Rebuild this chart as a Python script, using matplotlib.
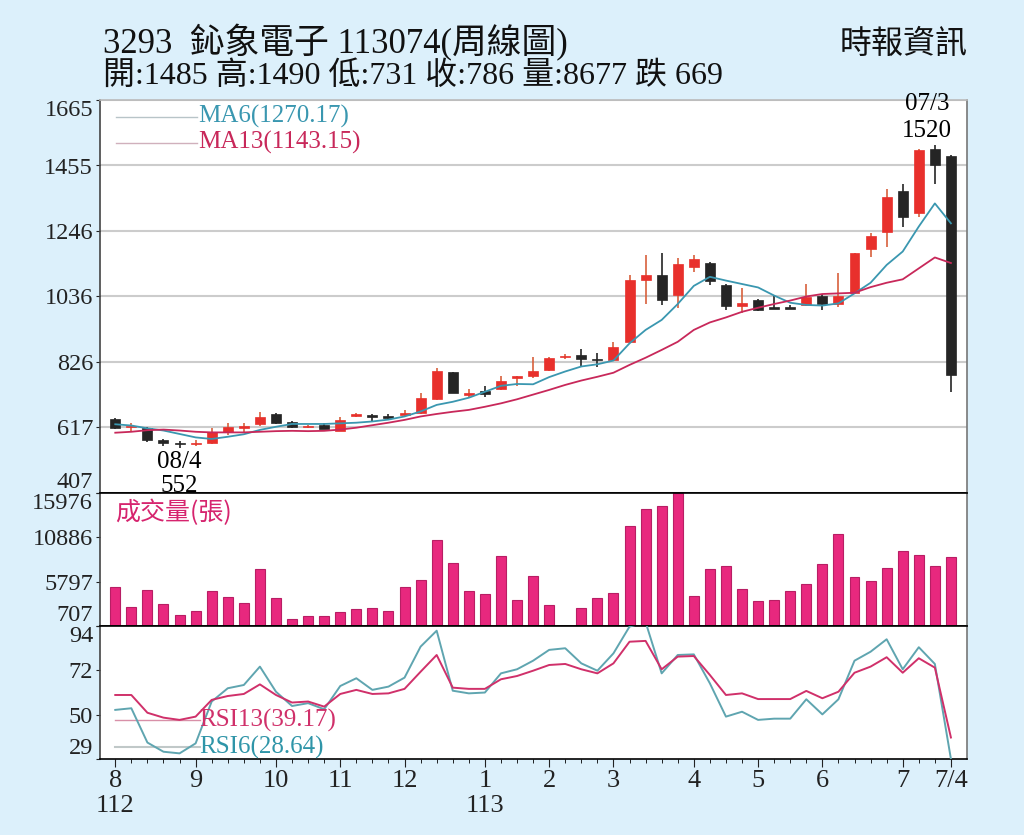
import numpy as np
import matplotlib.pyplot as plt
import matplotlib.transforms as mtransforms

# ---------------- weekly data ----------------
opens = [643, 617, 614, 577, 565, 563, 566, 603, 615, 627,
         660, 633, 617, 625, 607, 654, 657, 652, 657, 662,
         707, 793, 721, 735, 739, 775, 782, 801, 841, 849,
         836, 833, 889, 1089, 1105, 1041, 1132, 1144, 1073, 1007,
         1025, 1000, 1000, 1009, 1039, 1012, 1046, 1187, 1244, 1375,
         1302, 1508, 1485]
highs = [646, 630, 617, 579, 574, 576, 614, 630, 632, 667,
         664, 639, 625, 630, 649, 662, 659, 660, 673, 726,
         806, 795, 740, 751, 782, 782, 843, 841, 852, 867,
         854, 891, 1105, 1169, 1176, 1158, 1169, 1148, 1076, 1062,
         1027, 1038, 1009, 1076, 1044, 1110, 1176, 1240, 1379, 1395,
         1507, 1520, 1490]
lows = [611, 603, 569, 558, 552, 556, 563, 593, 603, 622,
        627, 614, 614, 611, 604, 649, 635, 642, 651, 660,
        705, 726, 715, 715, 737, 750, 774, 799, 836, 811,
        809, 831, 888, 1011, 1009, 1000, 1116, 1073, 993, 982,
        991, 996, 995, 1004, 993, 1001, 1044, 1161, 1196, 1260,
        1292, 1395, 731]
closes = [614, 620, 577, 566, 563, 566, 603, 619, 620, 651,
          632, 619, 620, 613, 641, 656, 649, 648, 661, 712,
          798, 728, 725, 724, 767, 778, 799, 838, 845, 836,
          832, 875, 1089, 1105, 1025, 1140, 1155, 1087, 1004, 1014,
          993, 997, 997, 1036, 1012, 1039, 1174, 1230, 1354, 1292,
          1505, 1457, 786]
volumes = [5234, 2932, 4850, 3239, 1973, 2433, 4774, 4083, 3316, 7229,
           3891, 1551, 1820, 1820, 2318, 2625, 2740, 2433, 5196, 5963,
           10605, 7996, 4697, 4352, 8763, 3661, 6462, 3124, 707, 2740,
           3968, 4505, 12139, 14134, 14441, 15976, 4198, 7267, 7651, 5004,
           3546, 3661, 4774, 5503, 7843, 11295, 6308, 5925, 7421, 9339,
           8840, 7574, 8677]
ma6 = [627, 623, 614, 607, 596, 585, 580, 587, 595, 609,
       619, 628, 628, 628, 630, 632, 636, 642, 652, 668,
       689, 699, 712, 731, 750, 756, 755, 778, 796, 812,
       819, 831, 886, 929, 961, 1012, 1070, 1099, 1087, 1076,
       1065, 1039, 1016, 1009, 1007, 1014, 1046, 1080, 1137, 1180,
       1260, 1334, 1270.17]
ma13 = [600, 603, 608, 610, 607, 603, 601, 601, 601, 603,
        605, 606, 605, 606, 610, 616, 624, 632, 641, 652,
        660, 667, 673, 683, 694, 707, 722, 737, 753, 767,
        779, 792, 817, 840, 865, 891, 929, 953, 969, 987,
        1000, 1012, 1023, 1036, 1044, 1046, 1048, 1066, 1080, 1091,
        1126, 1161, 1143.15]
rsi13 = [60.0, 60.0, 51.3, 48.9, 47.8, 49.4, 57.6, 59.5, 60.5, 65.2,
         60.0, 56.3, 56.8, 54.3, 60.5, 62.5, 60.5, 60.8, 63.0, 71.4,
         79.6, 63.6, 63.0, 63.0, 67.7, 69.3, 71.9, 74.7, 75.2, 72.6,
         70.6, 75.5, 86.1, 86.5, 72.6, 78.8, 79.1, 69.8, 60.0, 60.8,
         58.0, 58.0, 58.0, 62.0, 58.4, 61.6, 70.9, 73.9, 78.5, 70.9,
         78.0, 73.4, 39.17]
rsi6 = [52.7, 53.5, 36.7, 32.2, 31.4, 36.3, 56.8, 63.3, 64.9, 73.9,
        61.6, 54.6, 56.0, 53.0, 64.4, 68.2, 62.5, 64.1, 68.5, 83.7,
        91.5, 62.1, 60.8, 61.2, 70.6, 72.6, 76.8, 82.1, 82.9, 75.5,
        71.9, 80.4, 93.5, 95.7, 70.6, 79.6, 79.9, 65.7, 49.4, 51.8,
        47.8, 48.4, 48.4, 57.9, 50.5, 57.9, 76.8, 81.2, 87.3, 72.6,
        83.4, 75.2, 28.64]

month_pos = [0, 5, 10, 14, 18, 23, 27, 31, 36, 40, 44, 49, 52]
month_labels = ['8', '9', '10', '11', '12', '1', '2', '3', '4', '5', '6', '7', '7/4']
year_pos = [0, 23]
year_labels = ['112', '113']

price_labels = ['407', '617', '826', '1036', '1246', '1455', '1665']
vol_labels = ['707', '5797', '10886', '15976']
rsi_labels = ['29', '50', '72', '94']

title1 = '3293  鈊象電子 113074(周線圖)'
title2 = '開:1485 高:1490 低:731 收:786 量:8677 跌 669'

# ---------------- style ----------------
BG = '#dcf0fb'
RED = '#e8302c'
BLACK = '#252525'
PINK = '#e8287e'
TEAL = '#3a97b0'
MAGENTA = '#c8285a'

plt.rcParams['font.family'] = ['Liberation Serif', 'Noto Sans CJK TC']
CJK = ['Noto Sans CJK TC', 'DejaVu Sans']

opens = np.array(opens, float)
closes = np.array(closes, float)
highs = np.array(highs, float)
lows = np.array(lows, float)
weeks = np.arange(len(closes))

fig = plt.figure(figsize=(10.24, 8.35), dpi=100, facecolor=BG)
L, W = 100 / 1024, 867 / 1024
ax1 = fig.add_axes([L, 1 - 493 / 835, W, 393 / 835])
ax2 = fig.add_axes([L, 1 - 626 / 835, W, 133 / 835])
ax3 = fig.add_axes([L, 1 - 759 / 835, W, 133 / 835])

for ax in (ax1, ax2, ax3):
    ax.set_facecolor('white')
    ax.set_xlim(-0.95, 53.0)
    ax.spines['left'].set_color('#444444')
    ax.spines['right'].set_color('#777777')
    ax.spines['top'].set_color('black')
    ax.spines['bottom'].set_color('black')
    for s in ax.spines.values():
        s.set_linewidth(1.2)
    ax.tick_params(axis='y', direction='out', length=3, pad=2,
                   labelsize=17.5, colors='#222222')
ax1.spines['top'].set_color('#bbbbbb')


def clamp_labels(ax):
    labs = ax.get_yticklabels()
    labs[0].set_va('bottom')
    labs[-1].set_va('top')


# ---------------- price panel ----------------
ax1.set_ylim(407, 1665)
ax1.set_yticks(np.linspace(407, 1665, 7), price_labels)
clamp_labels(ax1)
ax1.grid(axis='y', color='#cccccc', lw=1.5)
ax1.set_axisbelow(True)
ax1.set_xticks([])

up = closes >= opens
body_col = np.where(up, RED, BLACK)
wick_col = np.where(up, '#d8603c', BLACK)
ax1.vlines(weeks, lows, highs, colors=wick_col, lw=1.2, zorder=3)
bottoms = np.minimum(opens, closes)
heights = np.maximum(np.abs(closes - opens), 5)
ax1.bar(weeks, heights, bottom=bottoms, width=0.62, color=body_col,
        edgecolor=body_col, lw=0.5, zorder=4)
ax1.plot(weeks, ma6, color=TEAL, lw=1.3, zorder=5)
ax1.plot(weeks, ma13, color=MAGENTA, lw=1.3, zorder=5)

ax1.plot([0.018, 0.112], [0.957, 0.957], color='#b8c4c8', lw=1,
         transform=ax1.transAxes)
ax1.plot([0.018, 0.112], [0.891, 0.891], color='#d0b0bc', lw=1,
         transform=ax1.transAxes)
ax1.text(0.113, 0.957, f'MA6({ma6[-1]:.2f})', color=TEAL, fontsize=18,
         va='center', transform=ax1.transAxes)
ax1.text(0.113, 0.891, f'MA13({ma13[-1]:.2f})', color=MAGENTA, fontsize=18,
         va='center', transform=ax1.transAxes)

ax1.text(4, 506, '08/4', fontsize=18, ha='center', va='center', zorder=6)
ax1.text(4, 428, '552', fontsize=18, ha='center', va='center', zorder=6,
         clip_on=False)
ax1.text(50.5, 1652, '07/3', fontsize=18, ha='center', va='center',
         clip_on=False)
ax1.text(50.5, 1566, '1520', fontsize=18, ha='center', va='center')

# ---------------- volume panel ----------------
ax2.set_ylim(707, 15976)
ax2.set_yticks(np.linspace(707, 15976, 4), vol_labels)
clamp_labels(ax2)
ax2.set_xticks([])
ax2.bar(weeks, volumes, width=0.62, color=PINK, edgecolor='#b81e64', lw=0.8)
ax2.text(0.017, 0.85, '成交量(張)', color='#d6246e', fontsize=18,
         family=CJK, va='center', transform=ax2.transAxes)

# ---------------- RSI panel ----------------
ax3.set_ylim(28.64, 93.8)
ax3.set_yticks(np.linspace(28.64, 93.8, 4), rsi_labels)
clamp_labels(ax3)
ax3.plot(weeks, rsi6, color='#5fa5b0', lw=1.4, zorder=3)
ax3.plot(weeks, rsi13, color='#d0306a', lw=1.4, zorder=4)
ax3.plot([0.017, 0.115], [0.293, 0.293], color='#d890a8', lw=1,
         transform=ax3.transAxes)
ax3.plot([0.017, 0.115], [0.09, 0.09], color='#c0c8c8', lw=1.5,
         transform=ax3.transAxes)
ax3.text(0.114, 0.293, f'RSI13({rsi13[-1]:.2f})', color='#d0306a',
         fontsize=18, va='center', transform=ax3.transAxes)
ax3.text(0.114, 0.09, f'RSI6({rsi6[-1]:.2f})', color='#2f95a8',
         fontsize=18, va='center', transform=ax3.transAxes)

ax3.set_xticks(month_pos, month_labels)
ax3.set_xticks(weeks, minor=True)
ax3.tick_params(axis='x', which='major', direction='out', length=6,
                pad=2, labelsize=19, colors='#222222')
ax3.tick_params(axis='x', which='minor', direction='out', length=3)
trans = mtransforms.blended_transform_factory(ax3.transData, ax3.transAxes)
for p, lab in zip(year_pos, year_labels):
    ax3.text(p, -0.35, lab, fontsize=19, ha='center', va='center',
             transform=trans, color='#222222')

# ---------------- titles ----------------
fig.text(0.1006, 0.949, title1, fontsize=25, va='center', color='#111111')
fig.text(0.1006, 0.909, title2, fontsize=23, va='center', color='#111111')
fig.text(0.945, 0.947, '時報資訊', fontsize=23, va='center', ha='right',
         family=CJK, color='#111111')

fig.savefig('out.png', dpi=100, facecolor=BG)
